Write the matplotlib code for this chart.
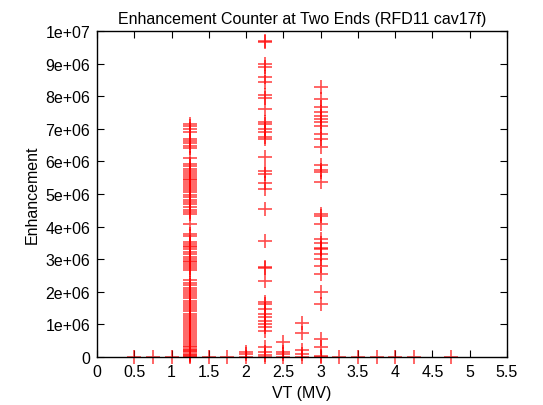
import numpy as np
import matplotlib.pyplot as plt

plt.rcParams['font.family'] = ['Liberation Sans', 'DejaVu Sans']

# zero-enhancement points along the axis
vt_zero = [0.5, 0.75, 1.0, 1.25, 1.5, 1.75, 2.0, 2.25, 2.5, 2.75, 3.0,
           3.25, 3.5, 3.75, 4.0, 4.25, 4.75]

# enhancement values (units of 1e6) per VT column
enh_125 = [7.15, 7.08, 7.0, 6.9, 6.7, 6.62, 6.55, 6.48, 6.4, 6.1, 5.92, 5.85,
           5.78, 5.7, 5.64, 5.58, 5.52, 5.47, 5.42, 5.37, 5.3, 5.24, 5.18, 5.12,
           5.05, 4.98, 4.9, 4.82, 4.75, 4.68, 4.6, 4.52, 4.45, 4.38, 4.08,
           3.77, 3.7, 3.52, 3.47, 3.42, 3.37, 3.3, 3.22, 3.15, 3.08, 3.02, 2.95,
           2.9, 2.84, 2.78, 2.72, 2.66, 2.35, 2.28, 2.2, 2.13, 2.06, 2.0, 1.93,
           1.86, 1.8, 1.73, 1.66, 1.6, 1.53, 1.46, 1.4, 1.33, 1.26, 1.2, 1.13,
           1.06, 1.0, 0.94, 0.88, 0.82, 0.76, 0.7, 0.64, 0.58, 0.52, 0.46, 0.4,
           0.35, 0.3, 0.26, 0.22, 0.18, 0.14, 0.1, 0.06, 0.03]
enh_225 = [9.7, 9.65, 8.99, 8.9, 8.6, 8.43, 8.05, 7.95, 7.6, 7.2, 7.15, 7.0,
           6.9, 6.75, 6.7, 6.13, 5.7, 5.6, 5.33, 5.15, 4.54, 3.57, 2.77, 2.73,
           2.33, 1.69, 1.63, 1.47, 1.32, 1.23, 1.1, 1.01, 0.92, 0.8, 0.3, 0.15,
           0.05]
enh_300 = [8.28, 7.9, 7.67, 7.5, 7.4, 7.3, 7.2, 7.1, 6.84, 6.7, 6.44, 5.9,
           5.75, 5.67, 5.37, 4.39, 4.33, 4.08, 3.62, 3.5, 3.35, 3.3, 3.16, 3.0,
           2.8, 2.55, 2.0, 1.63, 0.55, 0.3, 0.03]
enh_200 = [0.1, 0.15]
enh_250 = [0.1, 0.15, 0.45]
enh_275 = [1.05, 0.75, 0.2, 0.1]

x_ticks = [0, 0.5, 1, 1.5, 2, 2.5, 3, 3.5, 4, 4.5, 5, 5.5]
x_labels = ['0', '0.5', '1', '1.5', '2', '2.5', '3', '3.5', '4', '4.5', '5', '5.5']
y_ticks = [0, 1e6, 2e6, 3e6, 4e6, 5e6, 6e6, 7e6, 8e6, 9e6, 1e7]
y_labels = ['0', '1e+06', '2e+06', '3e+06', '4e+06', '5e+06', '6e+06',
            '7e+06', '8e+06', '9e+06', '1e+07']

xs = list(vt_zero)
ys = [0.0] * len(vt_zero)
for vt, vals in [(1.25, enh_125), (2.25, enh_225), (3.0, enh_300),
                 (2.0, enh_200), (2.5, enh_250), (2.75, enh_275)]:
    xs += [vt] * len(vals)
    ys += [v * 1e6 for v in vals]

fig = plt.figure(figsize=(5.43, 4.06), dpi=100)
ax = fig.add_axes([0.1786, 0.1182, 0.7551, 0.803])
ax.plot(xs, ys, linestyle='none', marker='+', color='#ff0000', alpha=0.7,
        markersize=10, markeredgewidth=1.2, clip_on=False)

ax.set_xlim(0, 5.5)
ax.set_ylim(0, 1e7)
ax.set_xticks(x_ticks)
ax.set_xticklabels(x_labels)
ax.set_yticks(y_ticks)
ax.set_yticklabels(y_labels)
ax.tick_params(direction='in', top=True, right=True, labelsize=11.5,
               length=5, width=0.8, pad=5)
for s in ax.spines.values():
    s.set_linewidth(1.0)

ax.set_title('Enhancement Counter at Two Ends (RFD11 cav17f)', fontsize=11.5, pad=6)
ax.set_xlabel('VT (MV)', fontsize=11.5)
ax.set_ylabel('Enhancement', fontsize=11.5)

fig.savefig('out.png', dpi=100)
